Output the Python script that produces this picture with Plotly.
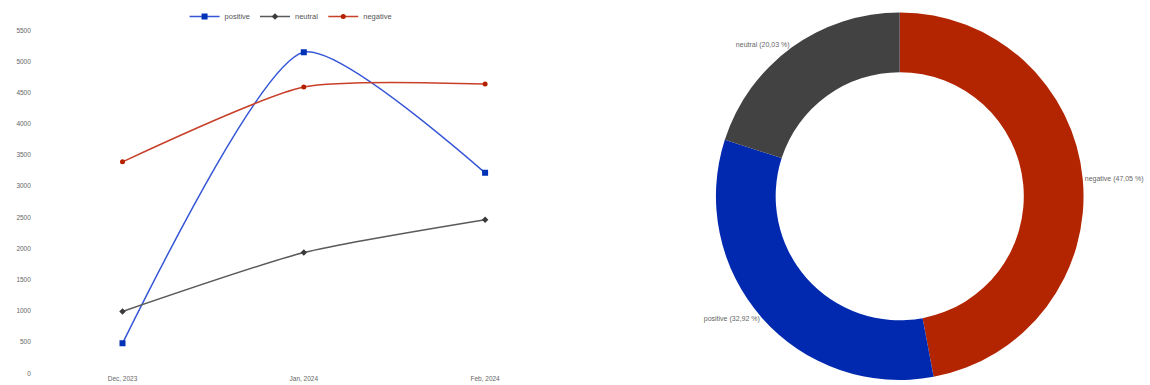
import plotly.graph_objects as go

months = ["Dec, 2023", "Jan, 2024", "Feb, 2024"]
positive = [480, 5148, 3214]
neutral = [991, 1935, 2462]
negative = [3390, 4589, 4637]

pie_labels = ["negative", "positive", "neutral"]
pie_values = [47.05, 32.92, 20.03]

y_ticks = [0, 500, 1000, 1500, 2000, 2500, 3000, 3500, 4000, 4500, 5000, 5500]

W, H = 1150, 385
FONT = "Liberation Sans, Arial, sans-serif"

fig = go.Figure()

fig.add_trace(go.Scatter(
    x=months, y=positive, name="positive", mode="lines+markers",
    line=dict(color="#3556d6", width=1.5, shape="spline", smoothing=0.6),
    marker=dict(symbol="square", size=6, color="#0032b8"),
))
fig.add_trace(go.Scatter(
    x=months, y=neutral, name="neutral", mode="lines+markers",
    line=dict(color="#5a5a5a", width=1.5, shape="spline", smoothing=0.6),
    marker=dict(symbol="diamond", size=5, color="#3a3a3a"),
))
fig.add_trace(go.Scatter(
    x=months, y=negative, name="negative", mode="lines+markers",
    line=dict(color="#c8402a", width=1.5, shape="spline", smoothing=0.6),
    marker=dict(symbol="circle", size=5, color="#b52000"),
))

fig.add_trace(go.Pie(
    labels=pie_labels, values=pie_values, hole=0.675, sort=False,
    direction="clockwise", rotation=0,
    marker=dict(colors=["#b32400", "#0029b0", "#424242"], line=dict(width=0)),
    textposition="outside", texttemplate="%{label} (%{value:.2f} %)",
    textfont=dict(size=7, color="#666666", family=FONT),
    showlegend=False,
    domain=dict(x=[729.9 / W, 1106.3 / W], y=[0.0, 376.4 / H]),
))

fig.update_layout(
    width=W, height=H,
    margin=dict(l=0, r=0, t=0, b=0),
    paper_bgcolor="white", plot_bgcolor="white",
    separators=",.",
    font=dict(family=FONT, size=7, color="#666666"),
    xaxis=dict(
        domain=[32.5 / W, 587.5 / W], range=[-0.5, 2.5],
        showgrid=False, zeroline=False, showline=False, ticks="",
        tickfont=dict(size=6.5, color="#666666"),
    ),
    yaxis=dict(
        domain=[6.9 / H, 358.1 / H], range=[0, 5500],
        tickvals=y_ticks, showgrid=False, zeroline=False, showline=False,
        ticks="", tickfont=dict(size=6.5, color="#666666"),
    ),
    legend=dict(
        orientation="h", x=297 / W, xanchor="center", y=1 - 12.7 / H, yanchor="middle",
        font=dict(size=7.5, color="#555555"), itemwidth=30,
        bgcolor="rgba(0,0,0,0)",
    ),
)

fig.write_html(
    "out.html",
    config={"displayModeBar": False},
    post_script="document.body.style.margin='0';document.body.style.overflow='hidden';",
)
